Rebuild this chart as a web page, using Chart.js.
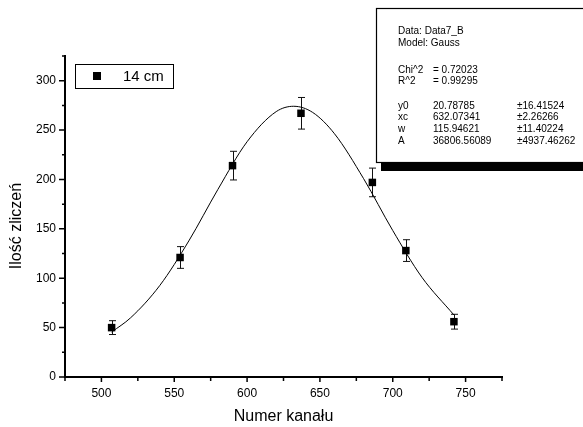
<!DOCTYPE html>
<html>
<head>
<meta charset="utf-8">
<script src="https://cdn.jsdelivr.net/npm/chart.js@4/dist/chart.umd.min.js"></script>
<style>
  html, body { margin: 0; padding: 0; background: #fff; }
  #wrap { width: 583px; height: 427px; position: relative; }
</style>
</head>
<body>
<div id="wrap"><canvas id="gaussChart"></canvas></div>
<script>
// measured points (channel, counts, error)
const pointX = [507, 554, 590, 637, 686, 709, 742];
const pointY = [50, 121, 214, 267, 197, 128, 56];
const pointErr = [7, 11, 14.5, 16, 14.5, 11, 7.5];

// fitted gauss curve
const curveX = [507, 520, 540, 560, 580, 600, 620, 632, 645, 660, 680, 700, 720, 742];
const curveY = [45.5, 59.9, 92.5, 137.8, 190.0, 238.2, 268.7, 274.1, 267.9, 246.3, 200.8, 148.3, 101.0, 62.8];

const xTicks = [500, 550, 600, 650, 700, 750];
const xMinor = [475, 525, 575, 625, 675, 725, 775];
const yTicks = [0, 50, 100, 150, 200, 250, 300];
const yMinor = [25, 75, 125, 175, 225, 275, 325];

const legendLabel = '14 cm';
const xTitle = 'Numer kanału';
const yTitle = 'Ilość zliczeń';

const fitHeader = ['Data: Data7_B', 'Model: Gauss'];
const fitStats = [['Chi^2', '= 0.72023'], ['R^2', '= 0.99295']];
const fitParams = [
  ['y0', '20.78785', '±16.41524'],
  ['xc', '632.07341', '±2.26266'],
  ['w', '115.94621', '±11.40224'],
  ['A', '36806.56089', '±4937.46262']
];

const FONT = '"Liberation Sans", Arial, sans-serif';

// error bars, minor ticks, axis titles, legend and fit box
const extras = {
  id: 'extras',
  beforeDatasetsDraw(chart) {
    const ctx = chart.ctx;
    const xs = chart.scales.x;
    const ys = chart.scales.y;
    ctx.save();
    ctx.strokeStyle = '#111';
    ctx.lineWidth = 1;
    for (let i = 0; i < pointX.length; i++) {
      const px = Math.round(xs.getPixelForValue(pointX[i])) + 0.5;
      const top = ys.getPixelForValue(pointY[i] + pointErr[i]);
      const bot = ys.getPixelForValue(pointY[i] - pointErr[i]);
      ctx.beginPath();
      ctx.moveTo(px, top); ctx.lineTo(px, bot);
      ctx.moveTo(px - 3.5, top); ctx.lineTo(px + 3.5, top);
      ctx.moveTo(px - 3.5, bot); ctx.lineTo(px + 3.5, bot);
      ctx.stroke();
    }
    ctx.restore();
  },
  afterDraw(chart) {
    const ctx = chart.ctx;
    const xs = chart.scales.x;
    const ys = chart.scales.y;
    const area = chart.chartArea;
    ctx.save();
    ctx.strokeStyle = '#000';
    ctx.lineWidth = 1.5;
    ctx.beginPath();
    xTicks.forEach(v => {
      const p = xs.getPixelForValue(v);
      ctx.moveTo(p, area.bottom); ctx.lineTo(p, area.bottom + 5);
    });
    xMinor.forEach(v => {
      const p = xs.getPixelForValue(v);
      ctx.moveTo(p, area.bottom); ctx.lineTo(p, area.bottom + 4);
    });
    yTicks.forEach(v => {
      const p = ys.getPixelForValue(v);
      ctx.moveTo(area.left, p); ctx.lineTo(area.left - 6, p);
    });
    yMinor.forEach(v => {
      const p = ys.getPixelForValue(v);
      ctx.moveTo(area.left, p); ctx.lineTo(area.left - 3, p);
    });
    ctx.stroke();

    // axis titles
    ctx.fillStyle = '#000';
    ctx.font = '16px ' + FONT;
    ctx.textAlign = 'center';
    ctx.textBaseline = 'middle';
    ctx.fillText(xTitle, (area.left + area.right) / 2, 417);
    ctx.save();
    ctx.translate(17, 226);
    ctx.rotate(-Math.PI / 2);
    ctx.fillText(yTitle, 0, 0);
    ctx.restore();

    // legend
    ctx.lineWidth = 1;
    ctx.strokeRect(75.5, 64.5, 98, 24);
    ctx.fillRect(93, 72, 8, 8);
    ctx.font = '15px ' + FONT;
    ctx.textAlign = 'left';
    ctx.fillText(legendLabel, 123, 76.5);

    // fit results box with shadow
    ctx.fillStyle = '#000';
    ctx.fillRect(381, 15, 210, 156);
    ctx.fillStyle = '#fff';
    ctx.fillRect(376, 8, 220, 155);
    ctx.strokeStyle = '#000';
    ctx.lineWidth = 1.2;
    ctx.strokeRect(376.5, 8.5, 220, 154);
    ctx.fillStyle = '#000';
    ctx.font = '10px ' + FONT;
    ctx.textBaseline = 'middle';
    fitHeader.forEach((t, i) => ctx.fillText(t, 398, 31 + i * 12));
    fitStats.forEach((r, i) => {
      ctx.fillText(r[0], 398, 70 + i * 11.7);
      ctx.fillText(r[1], 433, 70 + i * 11.7);
    });
    fitParams.forEach((r, i) => {
      ctx.fillText(r[0], 398, 106 + i * 11.7);
      ctx.fillText(r[1], 433, 106 + i * 11.7);
      ctx.fillText(r[2], 517, 106 + i * 11.7);
    });
    ctx.restore();
  }
};

const ctx = document.getElementById('gaussChart').getContext('2d');
const gaussChart = new Chart(ctx, {
  type: 'scatter',
  data: {
    datasets: [
      {
        label: 'fit',
        type: 'line',
        data: curveX.map((x, i) => ({ x: x, y: curveY[i] })),
        borderColor: '#000',
        borderWidth: 1,
        pointRadius: 0,
        cubicInterpolationMode: 'monotone',
        fill: false
      },
      {
        label: legendLabel,
        data: pointX.map((x, i) => ({ x: x, y: pointY[i] })),
        pointStyle: 'rect',
        pointRadius: 5.3,
        backgroundColor: '#000',
        borderColor: '#000',
        borderWidth: 0
      }
    ]
  },
  options: {
    responsive: true,
    maintainAspectRatio: false,
    animation: false,
    layout: { padding: { top: 56, right: 81, left: 0, bottom: 0 } },
    plugins: {
      legend: { display: false },
      tooltip: { enabled: false }
    },
    scales: {
      x: {
        type: 'linear',
        min: 475,
        max: 775,
        afterFit(scale) { scale.height = 50; },
        afterBuildTicks(scale) { scale.ticks = xTicks.map(v => ({ value: v })); },
        grid: { display: false, drawTicks: false, tickLength: 0 },
        border: { display: true, color: '#000', width: 2 },
        ticks: { color: '#000', padding: 9, maxRotation: 0, font: { family: FONT, size: 12 } }
      },
      y: {
        type: 'linear',
        min: 0,
        max: 325,
        afterFit(scale) { scale.width = 65; },
        afterBuildTicks(scale) { scale.ticks = yTicks.map(v => ({ value: v })); },
        grid: { display: false, drawTicks: false, tickLength: 0 },
        border: { display: true, color: '#000', width: 2 },
        ticks: { color: '#000', padding: 9, font: { family: FONT, size: 12 } }
      }
    }
  },
  plugins: [extras]
});
</script>
</body>
</html>
